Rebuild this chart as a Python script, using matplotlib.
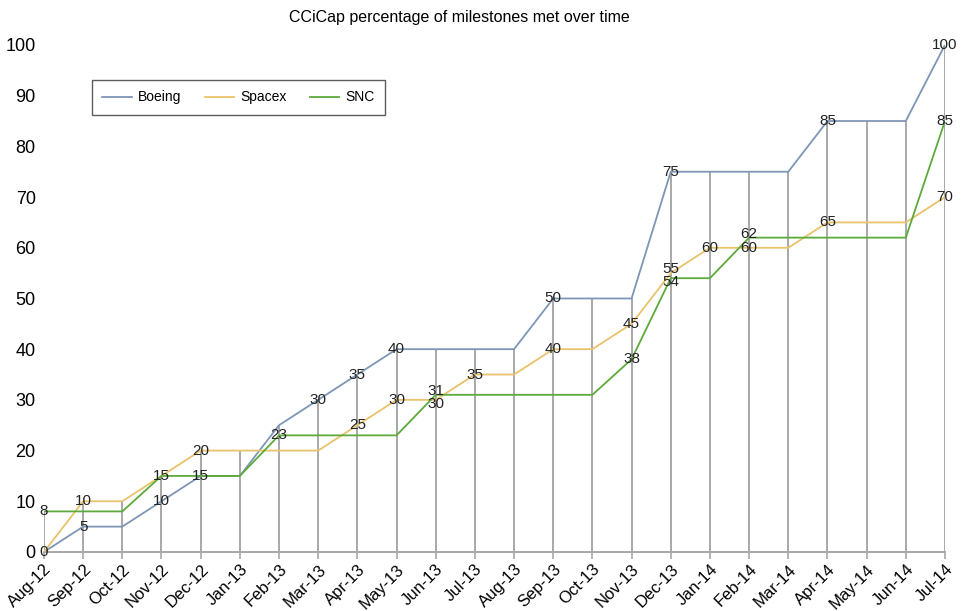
import matplotlib
matplotlib.use("Agg")
import matplotlib.pyplot as plt
import numpy as np

plt.rcParams['font.family'] = ['Liberation Sans', 'DejaVu Sans']

months = ["Aug-12", "Sep-12", "Oct-12", "Nov-12", "Dec-12", "Jan-13", "Feb-13", "Mar-13",
          "Apr-13", "May-13", "Jun-13", "Jul-13", "Aug-13", "Sep-13", "Oct-13", "Nov-13",
          "Dec-13", "Jan-14", "Feb-14", "Mar-14", "Apr-14", "May-14", "Jun-14", "Jul-14"]

boeing = [0, 5, 5, 10, 15, 15, 25, 30, 35, 40, 40, 40, 40, 50, 50, 50,
          75, 75, 75, 75, 85, 85, 85, 100]
spacex = [0, 10, 10, 15, 20, 20, 20, 20, 25, 30, 30, 35, 35, 40, 40, 45,
          55, 60, 60, 60, 65, 65, 65, 70]
snc = [8, 8, 8, 15, 15, 15, 23, 23, 23, 23, 31, 31, 31, 31, 31, 38,
       54, 54, 62, 62, 62, 62, 62, 85]

# which points carry a data label (index -> vertical nudge direction: 0 centre, -1 below, +1 above)
boeing_labels = {0: 0, 1: 0, 3: 0, 4: 0, 7: 0, 8: 0, 9: 0, 13: 0, 16: 0, 20: 0, 23: 0}
spacex_labels = {1: 0, 4: 0, 8: 0, 9: 0, 10: -1, 11: 0, 13: 0, 15: 0, 16: 1, 17: 0, 18: 0, 20: 0, 23: 0}
snc_labels = {0: 0, 3: 0, 6: 0, 10: 1, 15: 0, 16: -1, 18: 1, 23: 0}

c_boeing = "#7d96b5"
c_spacex = "#e9c36b"
c_snc = "#5daa3c"

fig = plt.figure(figsize=(9.62, 6.11), dpi=100)
ax = fig.add_axes([0.0457, 0.0966, 0.9366, 0.8298])

x = np.arange(len(months))
tops = np.maximum(np.maximum(boeing, spacex), snc)
ax.vlines(x, 0, tops, color="#a8a8a8", lw=1.4, zorder=1)

ax.plot(x, boeing, color=c_boeing, lw=1.3, label="Boeing", zorder=3)
ax.plot(x, spacex, color=c_spacex, lw=1.3, label="Spacex", zorder=3)
ax.plot(x, snc, color=c_snc, lw=1.3, label="SNC", zorder=3)

for vals, labs in [(boeing, boeing_labels), (spacex, spacex_labels), (snc, snc_labels)]:
    for i, d in labs.items():
        ax.annotate(str(vals[i]), (x[i], vals[i]), xytext=(0, 4 * d), textcoords="offset pixels",
                    ha="center", va="center", fontsize=11, color="#222222", zorder=4)

ax.set_xlim(0, len(months) - 1)
ax.set_ylim(0, 100)
ax.set_yticks(np.arange(0, 101, 10))
ax.set_xticks(x)
ax.set_xticklabels(months, rotation=45, ha="right", rotation_mode="anchor", fontsize=12)
ax.tick_params(axis="y", length=0, labelsize=13, pad=6)
ax.tick_params(axis="x", length=5, color="#a8a8a8", width=1.2, pad=2)
for s in ["left", "top", "right"]:
    ax.spines[s].set_visible(False)
ax.spines["bottom"].set_color("#a8a8a8")
ax.spines["bottom"].set_linewidth(1.4)

leg = ax.legend(loc="upper left", bbox_to_anchor=(0.0533, 0.931), ncol=3, fontsize=10,
                frameon=True, fancybox=False, edgecolor="#333333", borderpad=0.75,
                borderaxespad=0, handlelength=2.1, columnspacing=1.7, handletextpad=0.45)
leg.get_frame().set_linewidth(1.0)

fig.text(0.478, 0.972, "CCiCap percentage of milestones met over time", ha="center", va="center", fontsize=11.5)

fig.savefig("out.png", dpi=100)
